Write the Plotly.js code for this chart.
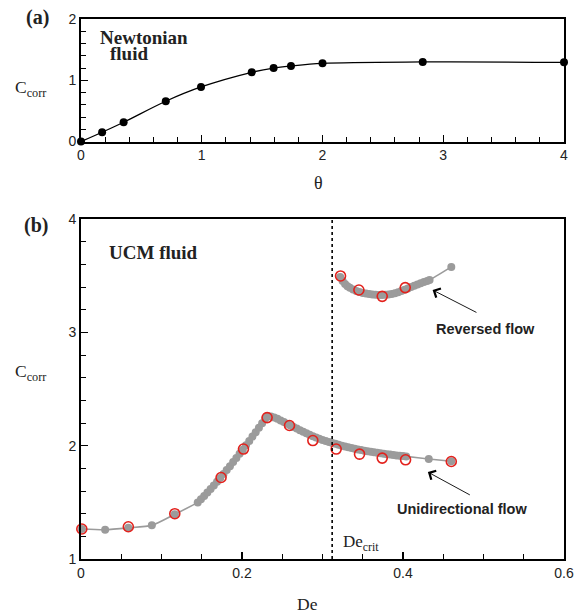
<!DOCTYPE html>
<html>
<head>
<meta charset="utf-8">
<script src="https://cdn.plot.ly/plotly-3.0.1.min.js"></script>
<style>html,body{margin:0;padding:0;background:#fff;}#chart{width:577px;height:614px;}</style>
</head>
<body>
<div id="chart"></div>
<script>
// Panel (a): Newtonian fluid
const theta = [0, 0.175, 0.353, 0.702, 0.994, 1.414, 1.595, 1.739, 2.0, 2.83, 4.0];
const ccorrNewt = [0, 0.152, 0.315, 0.658, 0.891, 1.13, 1.20, 1.234, 1.277, 1.299, 1.293];

// Panel (b): UCM fluid, unidirectional branch (grey simulations)
const deUni = [0.001, 0.030, 0.0588, 0.088, 0.1165,
  0.145, 0.149, 0.153, 0.157, 0.161, 0.165, 0.169, 0.173, 0.177, 0.181, 0.185, 0.189, 0.193, 0.197,
  0.201, 0.205, 0.209, 0.213, 0.217, 0.221, 0.225, 0.229, 0.232,
  0.236, 0.240, 0.244, 0.248, 0.252, 0.256, 0.260, 0.264, 0.268, 0.272, 0.276, 0.280, 0.284, 0.288,
  0.292, 0.296, 0.300, 0.304, 0.308, 0.312, 0.316, 0.320, 0.324, 0.328, 0.332, 0.336, 0.340, 0.344,
  0.348, 0.352, 0.356, 0.360, 0.364, 0.368, 0.372, 0.376, 0.380, 0.384, 0.388, 0.392, 0.396, 0.400,
  0.404, 0.432, 0.460];
const cUni = [1.265, 1.259, 1.275, 1.297, 1.395,
  1.50, 1.528, 1.557, 1.587, 1.618, 1.65, 1.683, 1.716, 1.75, 1.785, 1.82, 1.856, 1.892, 1.929,
  1.966, 2.004, 2.042, 2.081, 2.12, 2.16, 2.20, 2.24, 2.262,
  2.258, 2.25, 2.238, 2.224, 2.21, 2.195, 2.18, 2.166, 2.152, 2.138, 2.124, 2.11, 2.097, 2.085,
  2.073, 2.062, 2.052, 2.043, 2.034, 2.025, 2.017, 2.009, 2.001, 1.994, 1.987, 1.98, 1.974, 1.968,
  1.962, 1.957, 1.952, 1.947, 1.942, 1.938, 1.934, 1.93, 1.926, 1.922, 1.918, 1.915, 1.912, 1.909,
  1.906, 1.883, 1.863];

// Reversed-flow branch (grey simulations)
const deRev = [0.322, 0.325, 0.328, 0.331, 0.334, 0.338, 0.342, 0.346, 0.350, 0.354, 0.358, 0.362,
  0.366, 0.370, 0.374, 0.378, 0.382, 0.386, 0.390, 0.394, 0.398, 0.402, 0.406, 0.410, 0.414, 0.418,
  0.422, 0.426, 0.430, 0.433, 0.460];
const cRev = [3.49, 3.455, 3.43, 3.41, 3.395, 3.38, 3.368, 3.358, 3.35, 3.345, 3.34, 3.336,
  3.334, 3.332, 3.332, 3.333, 3.336, 3.341, 3.348, 3.356, 3.366, 3.378, 3.39, 3.402, 3.414, 3.425,
  3.436, 3.446, 3.456, 3.464, 3.58];

// Red open circles (second data set)
const deRedUni = [0.001, 0.0588, 0.1165, 0.174, 0.2018, 0.2312, 0.259, 0.288, 0.317, 0.346, 0.3742, 0.4032, 0.460];
const cRedUni = [1.265, 1.285, 1.40, 1.72, 1.971, 2.249, 2.179, 2.046, 1.971, 1.926, 1.891, 1.876, 1.861];
const deRedRev = [0.3224, 0.3452, 0.3742, 0.4028];
const cRedRev = [3.50, 3.376, 3.32, 3.397];

const deCrit = 0.312;

const serif = "'Liberation Serif', 'Times New Roman', serif";
const sans = "'Liberation Sans', Arial, sans-serif";
const grey = '#9b9b9b';
const red = '#e3211c';

const traces = [
  {x: theta, y: ccorrNewt, xaxis: 'x', yaxis: 'y', mode: 'lines+markers', type: 'scatter',
   line: {color: '#000', width: 1.3, shape: 'spline', smoothing: 1},
   marker: {color: '#000', size: 8}, cliponaxis: false, showlegend: false},
  {x: deUni, y: cUni, xaxis: 'x2', yaxis: 'y2', mode: 'lines+markers', type: 'scatter',
   line: {color: grey, width: 1.6, shape: 'spline', smoothing: 0.6},
   marker: {color: grey, size: 8}, cliponaxis: false, showlegend: false},
  {x: deRev, y: cRev, xaxis: 'x2', yaxis: 'y2', mode: 'lines+markers', type: 'scatter',
   line: {color: grey, width: 1.6, shape: 'spline', smoothing: 0.6},
   marker: {color: grey, size: 8}, cliponaxis: false, showlegend: false},
  {x: deRedUni, y: cRedUni, xaxis: 'x2', yaxis: 'y2', mode: 'markers', type: 'scatter',
   marker: {color: red, size: 10, symbol: 'circle-open', line: {width: 1.6, color: red}},
   cliponaxis: false, showlegend: false},
  {x: deRedRev, y: cRedRev, xaxis: 'x2', yaxis: 'y2', mode: 'markers', type: 'scatter',
   marker: {color: red, size: 10, symbol: 'circle-open', line: {width: 1.6, color: red}},
   cliponaxis: false, showlegend: false}
];

function ax(extra) {
  return Object.assign({
    showline: true, linecolor: '#000', linewidth: 2, mirror: true,
    ticks: 'inside', ticklen: 7, tickwidth: 1.2, tickcolor: '#000',
    showgrid: false, zeroline: false,
    tickfont: {family: sans, size: 14, color: '#222'}
  }, extra);
}

const layout = {
  width: 577, height: 614,
  margin: {l: 81, r: 13, t: 19, b: 55},
  paper_bgcolor: '#fff', plot_bgcolor: '#fff',
  showlegend: false,
  xaxis: ax({domain: [0, 1], range: [0, 4], anchor: 'y', tickvals: [0, 1, 2, 3, 4],
    minor: {dtick: 0.2, ticks: 'inside', ticklen: 5, tickcolor: '#000', tickwidth: 1}}),
  yaxis: ax({domain: [0.773, 1], range: [0, 2], anchor: 'x', tickvals: [0, 1, 2],
    minor: {dtick: 0.2, ticks: 'inside', ticklen: 5, tickcolor: '#000', tickwidth: 1}}),
  xaxis2: ax({domain: [0, 1], range: [0, 0.6], anchor: 'y2', tickvals: [0, 0.2, 0.4, 0.6],
    ticktext: ['0', '0.2', '0.4', '0.6'],
    minor: {dtick: 0.05, ticks: 'inside', ticklen: 5, tickcolor: '#000', tickwidth: 1}}),
  yaxis2: ax({domain: [0, 0.629], range: [1, 4], anchor: 'x2', tickvals: [1, 2, 3, 4],
    minor: {dtick: 0.2, ticks: 'inside', ticklen: 5, tickcolor: '#000', tickwidth: 1}}),
  shapes: [
    {type: 'line', xref: 'x2', yref: 'y2', x0: deCrit, x1: deCrit, y0: 1, y1: 4,
     line: {color: '#000', width: 1.6, dash: 'dot'}}
  ],
  annotations: [
    {xref: 'paper', yref: 'paper', x: -0.091, y: 1.002, text: '<b>(a)</b>', showarrow: false,
     font: {family: serif, size: 20, color: '#222'}, xanchor: 'center', yanchor: 'middle'},
    {xref: 'paper', yref: 'paper', x: -0.093, y: 0.6185, text: '<b>(b)</b>', showarrow: false,
     font: {family: serif, size: 20, color: '#222'}, xanchor: 'center', yanchor: 'middle'},
    {xref: 'paper', yref: 'paper', x: -0.105, y: 0.872, text: 'C<sub>corr</sub>', showarrow: false,
     font: {family: serif, size: 17.5, color: '#222'}, xanchor: 'center', yanchor: 'middle'},
    {xref: 'paper', yref: 'paper', x: -0.105, y: 0.345, text: 'C<sub>corr</sub>', showarrow: false,
     font: {family: serif, size: 17.5, color: '#222'}, xanchor: 'center', yanchor: 'middle'},
    {xref: 'x', yref: 'paper', x: 1.966, y: 0.6963, text: 'θ', showarrow: false,
     font: {family: serif, size: 18, color: '#222'}, xanchor: 'center', yanchor: 'middle'},
    {xref: 'x2', yref: 'paper', x: 0.2815, y: -0.083, text: 'De', showarrow: false,
     font: {family: serif, size: 17.5, color: '#222'}, xanchor: 'center', yanchor: 'middle'},
    {xref: 'x', yref: 'y', x: 0.143, y: 1.70, text: '<b>Newtonian</b>', showarrow: false,
     font: {family: serif, size: 19, color: '#222'}, xanchor: 'left', yanchor: 'middle'},
    {xref: 'x', yref: 'y', x: 0.226, y: 1.44, text: '<b>fluid</b>', showarrow: false,
     font: {family: serif, size: 19, color: '#222'}, xanchor: 'left', yanchor: 'middle'},
    {xref: 'x2', yref: 'y2', x: 0.0325, y: 3.71, text: '<b>UCM fluid</b>', showarrow: false,
     font: {family: serif, size: 19, color: '#222'}, xanchor: 'left', yanchor: 'middle'},
    {xref: 'x2', yref: 'y2', x: 0.323, y: 1.144, text: 'De<sub>crit</sub>', showarrow: false,
     font: {family: serif, size: 17, color: '#222'}, xanchor: 'left', yanchor: 'middle'},
    {xref: 'x2', yref: 'y2', x: 0.5027, y: 3.032, text: '<b>Reversed flow</b>', showarrow: false,
     font: {family: sans, size: 14.5, color: '#222'}, xanchor: 'center', yanchor: 'middle'},
    {xref: 'x2', yref: 'y2', x: 0.4728, y: 1.444, text: '<b>Unidirectional flow</b>', showarrow: false,
     font: {family: sans, size: 14.5, color: '#222'}, xanchor: 'center', yanchor: 'middle'},
    {xref: 'x2', yref: 'y2', axref: 'x2', ayref: 'y2', x: 0.4368, y: 3.376, ax: 0.4931, ay: 3.171,
     text: '', showarrow: true, arrowhead: 4, arrowsize: 2.2, arrowwidth: 0.9, arrowcolor: '#000', standoff: 0},
    {xref: 'x2', yref: 'y2', axref: 'x2', ayref: 'y2', x: 0.4309, y: 1.768, ax: 0.4849, ay: 1.559,
     text: '', showarrow: true, arrowhead: 4, arrowsize: 2.2, arrowwidth: 0.9, arrowcolor: '#000', standoff: 0}
  ]
};

Plotly.newPlot('chart', traces, layout, {displayModeBar: false, staticPlot: true});
</script>
</body>
</html>
